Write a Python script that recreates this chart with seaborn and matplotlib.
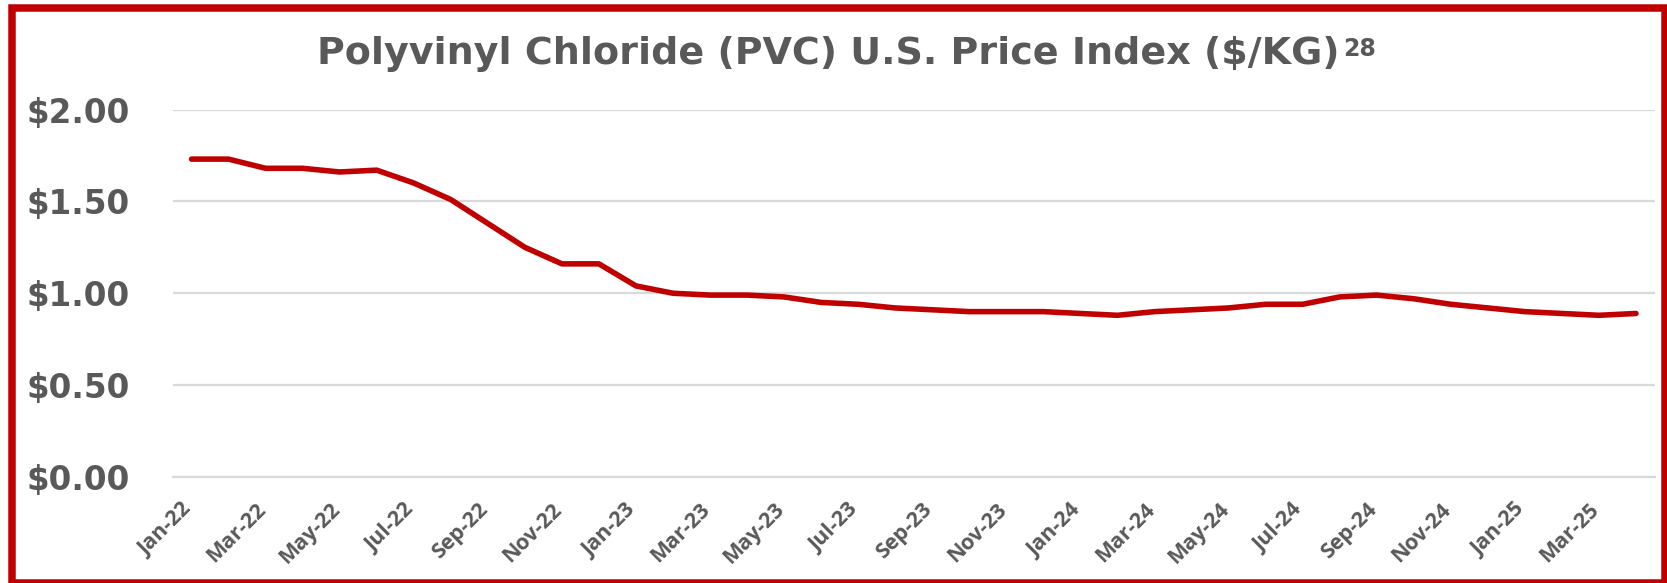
import numpy as np
import pandas as pd
import matplotlib
matplotlib.use('Agg')
import matplotlib.pyplot as plt
import seaborn as sns
from matplotlib.patches import Rectangle

#%% Data (monthly, Jan-22 to Apr-25)
months = ['Jan-22', 'Feb-22', 'Mar-22', 'Apr-22', 'May-22', 'Jun-22',
          'Jul-22', 'Aug-22', 'Sep-22', 'Oct-22', 'Nov-22', 'Dec-22',
          'Jan-23', 'Feb-23', 'Mar-23', 'Apr-23', 'May-23', 'Jun-23',
          'Jul-23', 'Aug-23', 'Sep-23', 'Oct-23', 'Nov-23', 'Dec-23',
          'Jan-24', 'Feb-24', 'Mar-24', 'Apr-24', 'May-24', 'Jun-24',
          'Jul-24', 'Aug-24', 'Sep-24', 'Oct-24', 'Nov-24', 'Dec-24',
          'Jan-25', 'Feb-25', 'Mar-25', 'Apr-25']
prices = [1.73, 1.73, 1.68, 1.68, 1.66, 1.67, 1.60, 1.51, 1.38, 1.25, 1.16, 1.16,
          1.04, 1.00, 0.99, 0.99, 0.98, 0.95, 0.94, 0.92, 0.91, 0.90, 0.90, 0.90,
          0.89, 0.88, 0.90, 0.91, 0.92, 0.94, 0.94, 0.98, 0.99, 0.97, 0.94, 0.92,
          0.90, 0.89, 0.88, 0.89]
y_ticks = [0.0, 0.5, 1.0, 1.5, 2.0]

title_text = 'Polyvinyl Chloride (PVC) U.S. Price Index (\\$/KG)'
title_sup = '28'

RED = '#C00000'
GREY = '#595959'
LIGHT = '#D9D9D9'

df = pd.DataFrame({'month': months, 'price': prices})
df['pos'] = np.arange(len(df))

#%% Plot
sns.set_style('white')
plt.rcParams['font.family'] = ['DejaVu Sans']

W, H = 1667, 583
fig = plt.figure(figsize=(W / 100, H / 100), dpi=100)
ax = fig.add_axes([173 / W, 1 - 477 / H, (1654.5 - 173) / W, (477 - 109.5) / H])

sns.lineplot(data=df, x='pos', y='price', ax=ax, color=RED, linewidth=4,
             solid_capstyle='round', solid_joinstyle='round')

ax.set_xlim(-0.5, len(months) - 0.5)
ax.set_ylim(0, 2)
ax.set_xlabel('')
ax.set_ylabel('')

# y axis
ax.set_yticks(y_ticks)
ax.set_yticklabels(['\\$%.2f' % v for v in y_ticks], fontsize=23.5,
                   fontweight='bold', color=GREY)
ax.tick_params(axis='y', length=0, pad=31)
ax.yaxis.grid(True, color=LIGHT, linewidth=1.6)
ax.set_axisbelow(True)

# x axis: labels every other month, tick marks between categories
ax.set_xticks(df['pos'][::2] + 0.12)
ax.set_xticklabels(months[::2], rotation=45, ha='right', rotation_mode='default',
                   fontsize=15.5, fontweight='bold', color=GREY,
                   family=['Open Sans', 'DejaVu Sans'])
ax.tick_params(axis='x', which='major', length=0, pad=16)
ax.set_xticks(np.arange(-0.5, len(months), 2), minor=True)
ax.tick_params(axis='x', which='minor', length=5.2, width=1.5, color=LIGHT)

for side in ['top', 'right', 'left']:
    ax.spines[side].set_visible(False)
ax.spines['bottom'].set_color(LIGHT)
ax.spines['bottom'].set_linewidth(1.6)

# title with superscript reference number
t = fig.text(317 / W, 1 - 64 / H, title_text, fontsize=27.4, fontweight='bold',
             color=GREY, ha='left', va='baseline')
fig.canvas.draw()
bb = t.get_window_extent()
fig.text((bb.x1 + 4) / W, 1 - 56 / H, title_sup, fontsize=17, fontweight='bold',
         color=GREY, ha='left', va='baseline')

# red frame around the whole figure
fig.patches.append(Rectangle((11.5 / W, 0.5 / H), (1665 - 11.5) / W, (575 - 0.5) / H,
                             transform=fig.transFigure, fill=False,
                             edgecolor=RED, linewidth=5.4))

fig.savefig('out.png', dpi=100)
